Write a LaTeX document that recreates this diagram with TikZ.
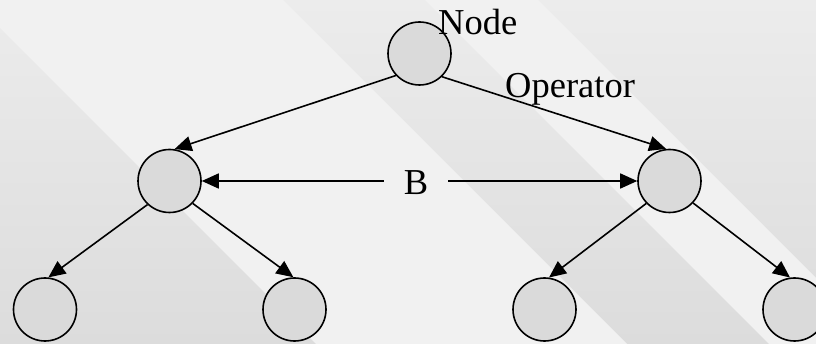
\documentclass[tikz,border=0pt]{standalone}
\usepackage{fontspec}
\setmainfont{Liberation Serif}
\usetikzlibrary{arrows.meta}
\definecolor{nodegray}{HTML}{DADADA}
\definecolor{bgtop}{HTML}{ECECEC}
\definecolor{bgbottom}{HTML}{DCDCDC}
\definecolor{bandgray}{HTML}{F1F1F1}
\begin{document}
\begin{tikzpicture}[x=1pt,y=-1pt,
  treenode/.style={circle,draw=black,line width=1.6pt,fill=nodegray,
                   minimum size=63pt,inner sep=0pt},
  link/.style={line width=1.6pt,-{Triangle[length=17pt,width=15pt]}},
  lbl/.style={font=\fontsize{36.5}{40}\selectfont,inner sep=0pt}]

  % background with light diagonal bands
  \useasboundingbox (0,0) rectangle (816,344);
  \shade[top color=bgtop,bottom color=bgbottom] (0,0) rectangle (816,344);
  \fill[bandgray] (0,28) -- (0,0) -- (283,0) -- (627,344) -- (316,344) -- cycle;
  \fill[bandgray] (425,0) -- (538,0) -- (816,278) -- (816,344) -- (769,344) -- cycle;

  % tree nodes
  \node[treenode] (top) at (419.5,53.5) {};
  \node[treenode] (ml)  at (169.5,181) {};
  \node[treenode] (mr)  at (669.5,181) {};
  \node[treenode] (b1)  at (45,309.5) {};
  \node[treenode] (b2)  at (294.5,309.5) {};
  \node[treenode] (b3)  at (544.5,309.5) {};
  \node[treenode] (b4)  at (794.5,309.5) {};

  % edges
  \draw[link] (top.223) -- (ml.81);
  \draw[link] (top.314) -- (mr.96);
  \draw[link] (ml.227) -- (b1.84);
  \draw[link] (ml.316) -- (b2.92);
  \draw[link] (mr.224) -- (b3.82);
  \draw[link] (mr.317) -- (b4.98);

  % labels
  \node[lbl,anchor=base west] (nd) at (438,35) {Node};
  \node[lbl,anchor=base west] (op) at (505,98) {Operator};
  \node[lbl,anchor=base,inner xsep=20pt] (bl) at (416,195) {B};

  % span arrows
  \draw[link] (bl.west |- ml.east) -- (ml.east);
  \draw[link] (bl.east |- mr.west) -- (mr.west);
\end{tikzpicture}
\end{document}
